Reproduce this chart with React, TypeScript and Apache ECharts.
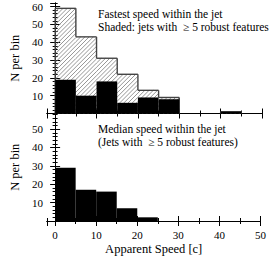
import React, { useEffect, useRef } from "react";
import * as echarts from "echarts";

// ---- data (bins of width 5 in apparent speed [c]) ----
const binStarts = [0, 5, 10, 15, 20, 25, 30, 35, 40, 45];
const binWidth = 5;
const fastestAll = [59, 43, 31, 22, 13, 9, 0, 0, 1, 0];
const fastestRobust = [19, 10, 18, 6, 9, 8, 0, 0, 1, 0];
const medianRobust = [29, 17, 16, 7, 2, 0, 0, 0, 0, 0];

const topText1 = "Fastest speed within the jet";
const topText2 = "Shaded: jets with  \u2265 5 robust features";
const botText1 = "Median speed within the jet";
const botText2 = "(Jets with  \u2265 5 robust features)";
const xName = "Apparent Speed [c]";
const yName = "N per bin";

const FONT = "Liberation Serif";

const hatchRows = binStarts.map((s, i) => [s, s + binWidth, fastestAll[i], i > 0 ? fastestAll[i - 1] : 0]);
const robustRows = binStarts.map((s, i) => [s, s + binWidth, fastestRobust[i]]);
const medianRows = binStarts.map((s, i) => [s, s + binWidth, medianRobust[i]]);

function hatchItem(params: any, api: any) {
  const x0 = api.value(0) as number;
  const x1 = api.value(1) as number;
  const v = api.value(2) as number;
  const prev = api.value(3) as number;
  const children: any[] = [];
  const pA = api.coord([x0, v]);
  const pB = api.coord([x1, 0]);
  if (v > 0) {
    const left = pA[0], right = pB[0], top = pA[1], bottom = pB[1];
    const s = 4.2;
    const cMin = left + top;
    const cMax = right + bottom;
    for (let c = Math.ceil(cMin / s) * s; c <= cMax; c += s) {
      const xa = Math.max(left, c - bottom);
      const xb = Math.min(right, c - top);
      if (xb > xa) {
        children.push({
          type: "line",
          shape: { x1: xa, y1: c - xa, x2: xb, y2: c - xb },
          style: { stroke: "#7a7a7a", lineWidth: 0.8 },
        });
      }
    }
    children.push({
      type: "line",
      shape: { x1: left, y1: top, x2: right, y2: top },
      style: { stroke: "#444", lineWidth: 1.4 },
      z2: 10,
    });
  }
  if (prev !== v) {
    const pp = api.coord([x0, prev]);
    const pv = api.coord([x0, v]);
    children.push({
      type: "line",
      shape: { x1: pp[0], y1: pp[1], x2: pv[0], y2: pv[1] },
      style: { stroke: "#444", lineWidth: 1.4 },
      z2: 10,
    });
  }
  return { type: "group", children };
}

function barItem(params: any, api: any) {
  const x0 = api.value(0) as number;
  const x1 = api.value(1) as number;
  const v = api.value(2) as number;
  if (!(v > 0)) return { type: "group", children: [] };
  const pA = api.coord([x0, v]);
  const pB = api.coord([x1, 0]);
  return {
    type: "rect",
    shape: { x: pA[0], y: pA[1], width: pB[0] - pA[0], height: pB[1] - pA[1] },
    style: { fill: "#000" },
  };
}

const axisLineStyle = { lineStyle: { color: "#000", width: 1 } };

function xAxes(gridIndex: number, showLabels: boolean) {
  const base = {
    type: "value",
    gridIndex,
    min: -2,
    max: 50,
    splitLine: { show: false },
  };
  return [
    {
      ...base,
      position: "bottom",
      minInterval: 10,
      maxInterval: 10,
      axisLine: { show: true, ...axisLineStyle },
      axisTick: { show: true, inside: true, length: 5, lineStyle: { color: "#000" } },
      axisLabel: {
        show: showLabels,
        showMinLabel: false,
        margin: 8,
        color: "#000",
        fontFamily: FONT,
        fontSize: 11,
      },
      name: showLabels ? xName : "",
      nameLocation: "middle",
      nameGap: 21,
      nameTextStyle: { color: "#000", fontFamily: FONT, fontSize: 12.5 },
    },
    {
      ...base,
      position: "bottom",
      minInterval: 5,
      maxInterval: 5,
      axisLine: { show: false },
      axisTick: { show: true, inside: true, length: 3, lineStyle: { color: "#000" } },
      axisLabel: { show: false },
    },
    {
      ...base,
      position: "top",
      minInterval: 10,
      maxInterval: 10,
      axisLine: { show: true, ...axisLineStyle },
      axisTick: { show: true, inside: true, length: 5, lineStyle: { color: "#000" } },
      axisLabel: { show: false },
    },
    {
      ...base,
      position: "top",
      minInterval: 5,
      maxInterval: 5,
      axisLine: { show: false },
      axisTick: { show: true, inside: true, length: 3, lineStyle: { color: "#000" } },
      axisLabel: { show: false },
    },
  ];
}

function yAxes(gridIndex: number, max: number) {
  const base = {
    type: "value",
    gridIndex,
    min: 0,
    max,
    splitLine: { show: false },
  };
  return [
    {
      ...base,
      position: "left",
      interval: 10,
      axisLine: { show: true, ...axisLineStyle },
      axisTick: { show: true, inside: true, length: 5, lineStyle: { color: "#000" } },
      axisLabel: {
        show: true,
        showMinLabel: false,
        showMaxLabel: max % 10 === 0,
        margin: 4,
        color: "#000",
        fontFamily: FONT,
        fontSize: 11,
      },
      name: yName,
      nameLocation: "middle",
      nameGap: 12,
      nameRotate: 90,
      nameTextStyle: { color: "#000", fontFamily: FONT, fontSize: 12.5 },
    },
    {
      ...base,
      position: "left",
      interval: 2,
      axisLine: { show: false },
      axisTick: { show: true, inside: true, length: 2.5, lineStyle: { color: "#000" } },
      axisLabel: { show: false },
    },
    {
      ...base,
      position: "right",
      interval: 10,
      axisLine: { show: true, ...axisLineStyle },
      axisTick: { show: true, inside: true, length: 5, lineStyle: { color: "#000" } },
      axisLabel: { show: false },
    },
    {
      ...base,
      position: "right",
      interval: 2,
      axisLine: { show: false },
      axisTick: { show: true, inside: true, length: 2.5, lineStyle: { color: "#000" } },
      axisLabel: { show: false },
    },
  ];
}

function textEl(text: string, x: number, y: number) {
  return {
    type: "text",
    x,
    y,
    z: 100,
    style: {
      text,
      fill: "#000",
      fontFamily: FONT,
      fontSize: 11.5,
      verticalAlign: "middle",
    },
  };
}

export default function App() {
  const ref = useRef<HTMLDivElement>(null);
  useEffect(() => {
    if (!ref.current) return;
    const chart = echarts.init(ref.current, null, { renderer: "svg" });
    chart.setOption({
      animation: false,
      backgroundColor: "#fff",
      textStyle: { fontFamily: FONT },
      grid: [
        { left: 26, right: 7, top: 3, height: 110.5 },
        { left: 26, right: 7, top: 113.5, height: 112 },
      ],
      xAxis: [...xAxes(0, false), ...xAxes(1, true)],
      yAxis: [...yAxes(0, 62), ...yAxes(1, 58.5)],
      series: [
        {
          type: "custom",
          xAxisIndex: 0,
          yAxisIndex: 0,
          renderItem: hatchItem,
          data: hatchRows,
          encode: { x: [0, 1], y: 2 },
          z: 2,
        },
        {
          type: "custom",
          xAxisIndex: 0,
          yAxisIndex: 0,
          renderItem: barItem,
          data: robustRows,
          encode: { x: [0, 1], y: 2 },
          z: 3,
        },
        {
          type: "custom",
          xAxisIndex: 4,
          yAxisIndex: 4,
          renderItem: barItem,
          data: medianRows,
          encode: { x: [0, 1], y: 2 },
          z: 3,
        },
      ],
      graphic: [
        textEl(topText1, 98, 14),
        textEl(topText2, 98, 27),
        textEl(botText1, 98, 129),
        textEl(botText2, 98, 142),
      ],
    });
    return () => chart.dispose();
  }, []);
  return (
    <div
      ref={ref}
      style={{ position: "fixed", left: 0, top: 0, width: 269, height: 256, background: "#fff" }}
    />
  );
}
